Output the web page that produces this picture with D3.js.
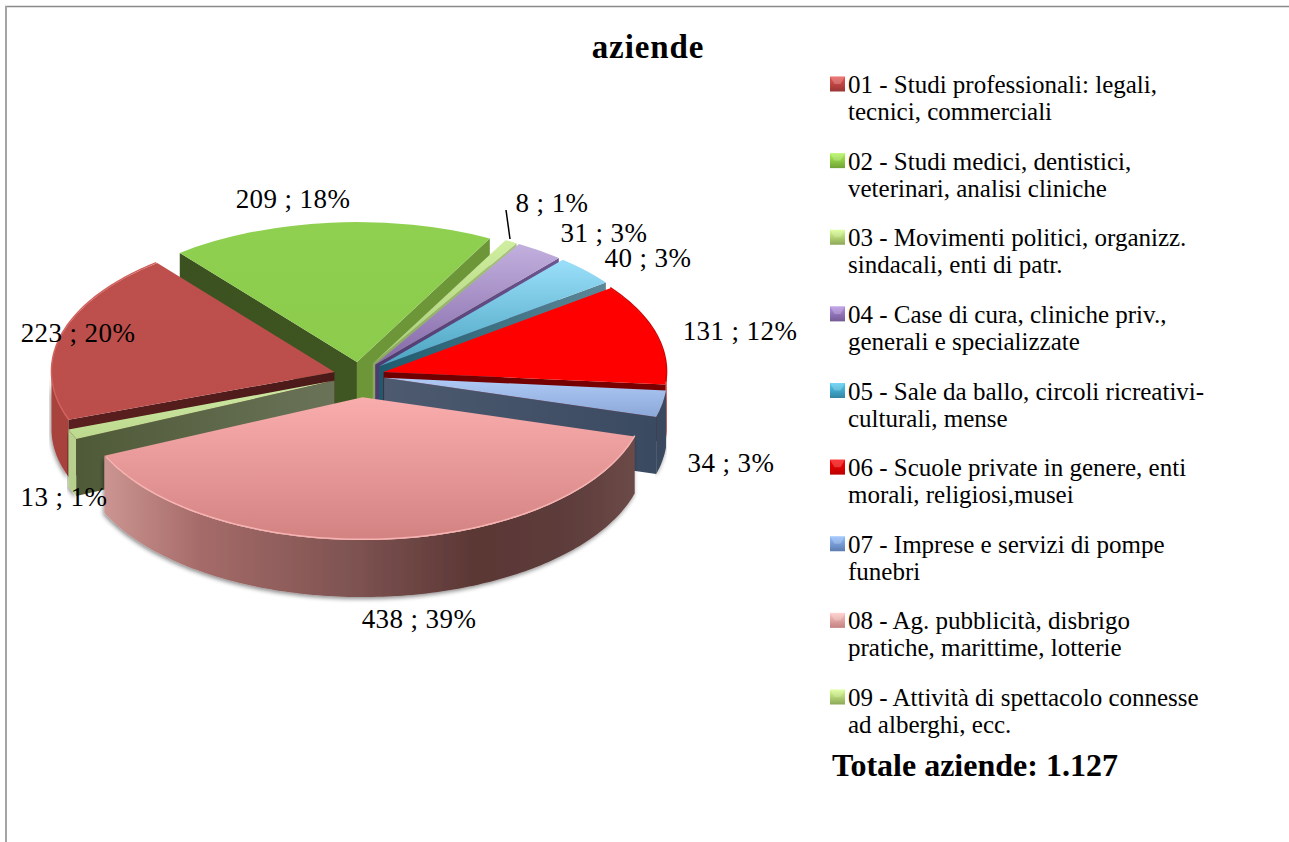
<!DOCTYPE html>
<html>
<head>
<meta charset="utf-8">
<style>
  html, body { margin: 0; padding: 0; background: #fff; overflow: hidden; }
  text { font-family: "Liberation Serif", serif; fill: #000; }
</style>
<script src="https://cdn.jsdelivr.net/npm/d3@7"></script>
</head>
<body>
<div id="chart"></div>
<script>
const categories = [
    ["01 - Studi professionali: legali,", "tecnici, commerciali"],
    ["02 - Studi medici, dentistici,", "veterinari, analisi cliniche"],
    ["03 - Movimenti politici, organizz.", "sindacali, enti di patr."],
    ["04 - Case di cura, cliniche priv.,", "generali e specializzate"],
    ["05 - Sale da ballo, circoli ricreativi-", "culturali, mense"],
    ["06 - Scuole private in genere, enti", "morali, religiosi,musei"],
    ["07 - Imprese e servizi di pompe", "funebri"],
    ["08 - Ag. pubblicità, disbrigo", "pratiche, marittime, lotterie"],
    ["09 - Attività di spettacolo connesse", "ad alberghi, ecc."]
];
const values = [223, 209, 8, 31, 40, 131, 34, 438, 13];
const percents = [20, 18, 1, 3, 3, 12, 3, 39, 1];
const title = "aziende";
const totalLabel = "Totale aziende: 1.127";

// styling, one entry per slice
const topColors = [
    ["#bd4f4c", "#bb4d4a"], ["#8fd050", "#8ccb4c"], ["#d0ee9f", "#a8cc78"],
    ["#c2b0de", "#8468a8"], ["#9adffa", "#4aa3bf"], ["#ff0000", "#ff0000"],
    ["#b0caf6", "#8aa8d8"], ["#f9adac", "#d38282"], ["#cfe9a4", "#bcd98e"]
];
// left and right end of each radial wall
const wallColors = [
    ["#5a1f1e", "#4a1a19"], ["#3b5220", "#3f5622"], ["#8aa662", "#a9c27c"],
    ["#4f3a70", "#6d5590"], ["#1e5a6e", "#5d8797"], ["#6e0000", "#7a0000"],
    ["#4d5a70", "#3a4a60"], ["#5c3836", "#5c3836"], ["#4f5a38", "#6a7358"]
];
const secondWall = "#6c9638"; // slice 02 shows both of its walls
const rimColors = ["#a8423e", "#6a9a38", "#a9c27c", "#6d5590", "#4f7f90", "#b80000", "#3a4a60", "#5c3836", "#b8d08e"];
const edgeLights = { 0: "#d2605b", 5: "#d80000", 7: "#f6b3b1" };
const keyColors = ["#b5413e", "#86c040", "#a9c96c", "#8a6db0", "#3d9fc0", "#e00000", "#6f93d0", "#e79a98", "#a9c96c"];
const explode = [26, 27, 27, 27, 27, 25, 25, 43, 27];
const labelSpots = [
    [78, 342], [293, 208], [552, 212], [604, 242], [648, 267], [740, 340], [731, 472], [419, 628], [64, 506]
];
const legendRows = d3.range(categories.length);

const width = 1289, height = 842;
const cx = 359.5, cy = 375.5, rx = 283, depth = 57;
const rad = Math.PI / 180;

const svg = d3.select("#chart").append("svg")
    .attr("width", width)
    .attr("height", height)
    .style("display", "block");
const defs = svg.append("defs");

// Frame, only top and left sides are visible
svg.append("line").attr("x1", 5).attr("x2", width).attr("y1", 6.5).attr("y2", 6.5)
    .style("stroke", "#8a8a8a").style("stroke-width", 1.5);
svg.append("line").attr("x1", 6).attr("x2", 6).attr("y1", 6).attr("y2", height)
    .style("stroke", "#a4a4a4").style("stroke-width", 2);

const shadow = defs.append("filter").attr("id", "shadow")
    .attr("x", "-10%").attr("y", "-10%").attr("width", "120%").attr("height", "125%");
shadow.append("feDropShadow").attr("dx", -1).attr("dy", 2).attr("stdDeviation", 2)
    .attr("flood-color", "#000").attr("flood-opacity", 0.45);

const pie = d3.pie().sort(null).value(d => d)
    .startAngle(250 * rad).endAngle(610 * rad);
const slices = pie(values).map((d, i) => {
    const mid = (d.startAngle + d.endAngle) / 2;
    return {
        i, a0: d.startAngle, a1: d.endAngle, mid,
        // slices at the back look a little flatter
        tilt: Math.cos(mid) > 0 ? 0.494 : 0.505,
        ax: cx + explode[i] * Math.sin(mid),
        ay: cy - explode[i] * 0.505 * Math.cos(mid)
    };
});

function vGrad(id, colors) {
    const g = defs.append("linearGradient").attr("id", id)
        .attr("x1", 0).attr("x2", 0).attr("y1", 0).attr("y2", 1);
    g.append("stop").attr("offset", "0%").attr("stop-color", colors[0]);
    g.append("stop").attr("offset", "100%").attr("stop-color", colors[1]);
}
function hGrad(id, stops) {
    const g = defs.append("linearGradient").attr("id", id)
        .attr("x1", 0).attr("x2", 1).attr("y1", 0).attr("y2", 0);
    stops.forEach(s => g.append("stop").attr("offset", s[0]).attr("stop-color", s[1]));
}

slices.forEach(s => {
    vGrad("top" + s.i, topColors[s.i]);
    hGrad("wall" + s.i, [["0%", wallColors[s.i][0]], ["100%", wallColors[s.i][1]]]);
});
hGrad("rim7", [["0%", "#cc9591"], ["18%", "#a56b69"], ["48%", "#7c5250"], ["70%", "#5b3735"], ["85%", "#5c3b3a"], ["100%", "#6b4947"]]);

const px = (s, a) => s.ax + rx * Math.sin(a);
const py = (s, a) => s.ay - rx * s.tilt * Math.cos(a);
const line = d3.line().x(d => d[0]).y(d => d[1]);
const arcTop = d3.arc().innerRadius(0).outerRadius(rx);

// Far slices first so the near ones paint over them
const order = slices.slice().sort((a, b) => Math.cos(b.mid) - Math.cos(a.mid));

order.forEach(s => {
    const g = svg.append("g").attr("class", "slice");

    // part of the outer edge that faces the viewer
    [[90, 270], [450, 630]].forEach(([lo, hi]) => {
        const from = Math.max(s.a0 / rad, lo), to = Math.min(s.a1 / rad, hi);
        if (to <= from) return;
        const steps = d3.range(from, to, 1).concat([to]).map(a => a * rad);
        const pts = steps.map(a => [px(s, a), py(s, a)])
            .concat(steps.slice().reverse().map(a => [px(s, a), py(s, a) + depth]));
        g.append("path")
            .attr("d", line(pts) + "Z")
            .attr("filter", "url(#shadow)")
            .style("fill", s.i === 7 ? "url(#rim7)" : rimColors[s.i]);
    });

    // radial walls, only when they face the viewer
    [[s.a0, -1], [s.a1, 1]].forEach(([a, side]) => {
        const normal = a + side * Math.PI / 2;
        if (Math.cos(normal) >= 0) return;
        const pts = [
            [s.ax, s.ay], [px(s, a), py(s, a)],
            [px(s, a), py(s, a) + depth], [s.ax, s.ay + depth]
        ];
        g.append("path")
            .attr("d", line(pts) + "Z")
            .style("fill", s.i === 1 && side > 0 ? secondWall : "url(#wall" + s.i + ")");
    });

    // top face
    g.append("path")
        .attr("d", arcTop({ startAngle: s.a0, endAngle: s.a1 }))
        .attr("transform", `translate(${s.ax},${s.ay}) scale(1,${s.tilt})`)
        .style("fill", "url(#top" + s.i + ")");

    // bevel highlight along the rim
    if (edgeLights[s.i]) {
        const rim = d3.range(s.a0 / rad, s.a1 / rad, 1).map(a => a * rad)
            .map(a => [px(s, a), py(s, a) - 0.7]);
        g.append("path")
            .attr("d", line(rim))
            .style("fill", "none")
            .style("stroke", edgeLights[s.i])
            .style("stroke-width", 1.5);
    }
});

// Data labels
slices.forEach(s => {
    svg.append("text")
        .attr("class", "data-label")
        .attr("x", labelSpots[s.i][0])
        .attr("y", labelSpots[s.i][1])
        .attr("text-anchor", "middle")
        .style("font-size", "27px")
        .style("letter-spacing", "0.4px")
        .text(`${values[s.i]} ; ${percents[s.i]}%`);
});

// Leader line for the smallest slice
svg.append("line")
    .attr("x1", 506).attr("y1", 210).attr("x2", 510).attr("y2", 239)
    .style("stroke", "#000").style("stroke-width", 1.5);

svg.append("text")
    .attr("x", 648).attr("y", 58)
    .attr("text-anchor", "middle")
    .style("font-size", "33px").style("font-weight", "bold")
    .style("letter-spacing", "0.9px")
    .text(title);

// Legend
const legendY = d3.scaleLinear().domain([0, 8]).range([85, 698]);
const legend = svg.selectAll(".legend")
    .data(legendRows)
    .enter()
    .append("g")
    .attr("class", "legend")
    .attr("transform", d => `translate(830,${legendY(d)})`);

legendRows.forEach(i => {
    const g = defs.append("linearGradient").attr("id", "key" + i)
        .attr("x1", 0).attr("x2", 0).attr("y1", 0).attr("y2", 1);
    g.append("stop").attr("offset", "0%").attr("stop-color", d3.color(keyColors[i]).brighter(0.7));
    g.append("stop").attr("offset", "100%").attr("stop-color", d3.color(keyColors[i]).darker(0.5));
});
legend.append("rect")
    .attr("x", 0).attr("y", -8.5).attr("width", 15).attr("height", 15)
    .style("fill", d => `url(#key${d})`);
legend.append("path")
    .attr("d", "M0,-8.5L15,-8.5L10.5,-1L4.5,-1Z")
    .style("fill", "#fff").style("fill-opacity", 0.22);

legend.append("text")
    .attr("x", 18).attr("y", 8)
    .style("font-size", "25px")
    .text(d => categories[d][0]);
legend.append("text")
    .attr("x", 18).attr("y", 35)
    .style("font-size", "25px")
    .text(d => categories[d][1]);

svg.append("text")
    .attr("x", 832).attr("y", 776)
    .style("font-size", "32px").style("font-weight", "bold")
    .text(totalLabel);
</script>
</body>
</html>
